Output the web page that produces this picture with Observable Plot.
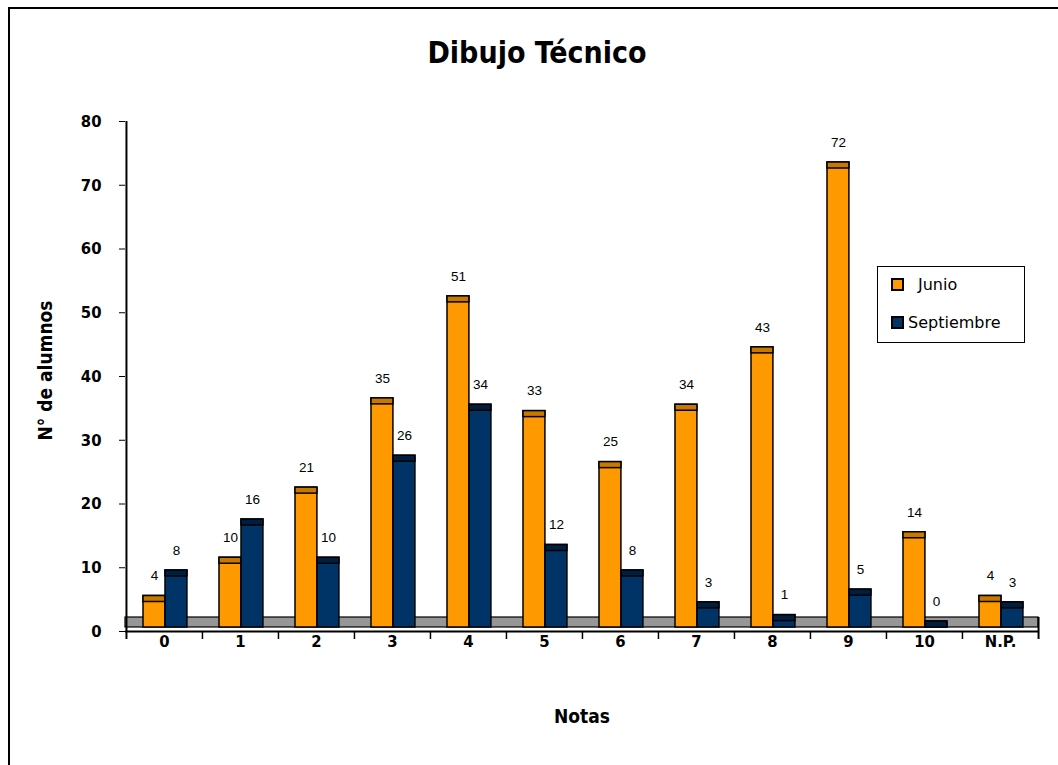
<!DOCTYPE html>
<html>
<head>
<meta charset="utf-8">
<script src="https://cdn.jsdelivr.net/npm/d3@7"></script>
<script src="https://cdn.jsdelivr.net/npm/@observablehq/plot@0.6"></script>
<style>
  html, body { margin: 0; padding: 0; background: #fff; width: 1058px; height: 765px; overflow: hidden; }
  #border { position: absolute; left: 8px; top: 7px; width: 1100px; height: 800px; border: 2px solid #000; box-sizing: border-box; }
  #title { position: absolute; left: 0; top: 35px; width: 1074px; text-align: center; font-family: "DejaVu Sans Condensed", "DejaVu Sans", sans-serif; font-weight: bold; font-size: 30px; color: #000; }
  #chart { position: absolute; left: 0; top: 100px; }
  #legend { position: absolute; left: 877px; top: 266px; width: 148px; height: 77px; border: 1px solid #000; box-sizing: border-box; background: #fff;
            font-family: "DejaVu Sans", sans-serif; font-size: 16px; color: #000; }
  .item { position: absolute; display: flex; align-items: center; }
  .sw { width: 9px; height: 9px; border: 2px solid #000; margin-right: 4px; }
</style>
</head>
<body>
<div id="border"></div>
<div id="title">Dibujo Técnico</div>
<div id="chart"></div>
<div id="legend"></div>
<script>
const notas = ["0", "1", "2", "3", "4", "5", "6", "7", "8", "9", "10", "N.P."];
const junio = [4, 10, 21, 35, 51, 33, 25, 34, 43, 72, 14, 4];
const septiembre = [8, 16, 10, 26, 34, 12, 8, 3, 1, 5, 0, 3];
const series = ["Junio", "Septiembre"];
const yTicks = [0, 10, 20, 30, 40, 50, 60, 70, 80];

const colors = {Junio: "#FF9900", Septiembre: "#003366"};
const capColors = {Junio: "#C87800", Septiembre: "#001E40"};

const data = notas.flatMap((n, i) => [
  {nota: n, serie: "Junio", valor: junio[i]},
  {nota: n, serie: "Septiembre", valor: septiembre[i]}
]);

const W = 1058, H = 665, mL = 125, mR = 20, mT = 21, mB = 134;
const step = (W - mL - mR) / notas.length;
const barW = 22;
const off = {Junio: 17, Septiembre: 17 + barW};
const boldFont = "DejaVu Sans Condensed, DejaVu Sans, sans-serif";

function barMarks(serie) {
  const d = data.filter(r => r.serie === serie);
  const inL = off[serie], inR = step - off[serie] - barW;
  return [
    Plot.barY(d, {x: "nota", y: "valor", fill: colors[serie], stroke: "#000", strokeWidth: 1.5,
      insetLeft: inL, insetRight: inR, insetTop: -10, insetBottom: 4}),
    Plot.barY(d, {x: "nota", y1: "valor", y2: "valor", fill: capColors[serie], stroke: "#000", strokeWidth: 1.5,
      insetLeft: inL, insetRight: inR, insetTop: -10, insetBottom: 4}),
    Plot.text(d, {x: "nota", y: "valor", text: d => String(d.valor), dx: off[serie] + barW / 2 - step / 2, dy: -30,
      fontFamily: "Liberation Sans, Arial, sans-serif", fontSize: 13.5, fill: "#000"})
  ];
}

const chart = Plot.plot({
  width: W,
  height: H,
  marginLeft: mL,
  marginRight: mR,
  marginTop: mT,
  marginBottom: mB,
  style: {background: "transparent", color: "#000", overflow: "visible"},
  x: {type: "band", domain: notas, padding: 0, axis: null},
  y: {domain: [0, 80], axis: null},
  marks: [
    // floor
    Plot.rect([0], {y1: 0, y2: 0, insetTop: -14, insetBottom: 4, fill: "#969696", stroke: "#000", strokeWidth: 1.2}),
    ...barMarks("Junio"),
    ...barMarks("Septiembre"),
    // axis lines
    Plot.ruleY([0], {stroke: "#000", strokeWidth: 2}),
    Plot.ruleX([notas[0]], {x: d => d, dx: -step / 2, y1: 80, y2: 0, insetBottom: -8, stroke: "#000", strokeWidth: 2}),
    Plot.ruleX([notas[notas.length - 1]], {x: d => d, dx: step / 2, y1: 0, y2: 0, insetTop: -14, insetBottom: -8, stroke: "#000", strokeWidth: 2}),
    // x boundary ticks
    Plot.ruleX(notas.slice(1), {x: d => d, dx: -step / 2, y1: 0, y2: 0, insetBottom: -8, stroke: "#000", strokeWidth: 1.5}),
    // y axis
    Plot.axisY({ticks: yTicks, tickSize: 6, tickPadding: 18, tickFormat: d => String(d), label: null,
      fontFamily: boldFont, fontWeight: "bold", fontSize: 16.5}),
    // x axis labels
    Plot.axisX({tickSize: 0, tickPadding: 4, label: null,
      fontFamily: boldFont, fontWeight: "bold", fontSize: 16.5}),
    // axis titles
    Plot.text(["N° de alumnos"], {frameAnchor: "left", textAnchor: "middle", rotate: -90, dx: -80, dy: -6, text: d => d,
      fontFamily: boldFont, fontWeight: "bold", fontSize: 19}),
    Plot.text(["Notas"], {frameAnchor: "bottom", dy: 91, text: d => d,
      fontFamily: boldFont, fontWeight: "bold", fontSize: 19})
  ]
});
document.getElementById("chart").appendChild(chart);

const legend = document.getElementById("legend");
series.forEach((s, i) => {
  const it = document.createElement("div");
  it.className = "item";
  it.style.left = "13px";
  it.style.top = (i === 0 ? 8 : 46) + "px";
  const sw = document.createElement("span");
  sw.className = "sw";
  sw.style.background = colors[s];
  const tx = document.createElement("span");
  tx.textContent = s;
  if (i === 0) tx.style.marginLeft = "10px";
  it.appendChild(sw);
  it.appendChild(tx);
  legend.appendChild(it);
});
</script>
</body>
</html>
